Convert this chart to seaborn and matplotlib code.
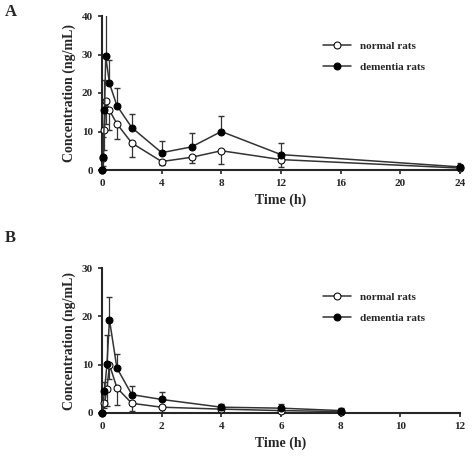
import matplotlib
matplotlib.use("Agg")
import matplotlib.pyplot as plt
import seaborn as sns
import numpy as np

sns.set_style("ticks")
plt.rcParams['font.family'] = ['Liberation Serif', 'DejaVu Serif']
plt.rcParams['font.weight'] = 'bold'

tA = [0, 0.083, 0.167, 0.25, 0.5, 1, 2, 4, 6, 8, 12, 24]
demA = [0, 3.5, 15.5, 29.5, 22.5, 16.7, 11, 4.5, 6, 10, 4, 0.8]
demA_err = [0, 5, 8, 17, 6, 4.5, 3.5, 3, 3.5, 4, 3, 1]
norA = [0, 3, 10.3, 18, 15.5, 12, 7, 2.2, 3.3, 5, 2.7, 0.5]
norA_err = [0, 2, 5, 6, 5, 4, 3.5, 1, 1.5, 3.5, 2, 0.5]

tB = [0, 0.083, 0.167, 0.25, 0.5, 1, 2, 4, 6, 8]
demB = [0, 4.5, 10.2, 19.3, 9.3, 3.8, 2.8, 1.2, 1.0, 0.5]
demB_err = [0, 2, 6, 4.6, 3, 1.7, 1.5, 0.7, 0.8, 0.5]
norB = [0, 2, 5, 10, 5.2, 2, 1.2, 0.8, 0.5, 0.3]
norB_err = [0, 1, 3.5, 3, 3.5, 1.5, 1, 0.5, 0.5, 0.3]

fig = plt.figure(figsize=(4.74, 4.74), dpi=100)
axA = fig.add_axes([102/474, 1-170/474, 358/474, 154/474])
axB = fig.add_axes([102/474, 1-413/474, 358/474, 145/474])

def panel(ax, t, dem, dem_e, nor, nor_e, xmax, xstep, ymax, ystep):
    ax.errorbar(t, dem, yerr=[np.zeros(len(dem)), dem_e], fmt='none', ecolor='#333333', elinewidth=0.9, capsize=2.5)
    ax.errorbar(t, nor, yerr=[nor_e, np.zeros(len(nor))], fmt='none', ecolor='#333333', elinewidth=0.9, capsize=2.5)
    sns.lineplot(x=t, y=nor, ax=ax, color='#333333', lw=1.1, marker='o', markersize=5,
                 markerfacecolor='white', markeredgecolor='black', label='normal rats', clip_on=False, zorder=5)
    sns.lineplot(x=t, y=dem, ax=ax, color='#333333', lw=1.1, marker='o', markersize=5,
                 markerfacecolor='black', markeredgecolor='black', label='dementia rats', clip_on=False, zorder=5)
    ax.set_xlim(0, xmax); ax.set_ylim(0, ymax)
    ax.set_xticks(np.arange(0, xmax+1, xstep)); ax.set_yticks(np.arange(0, ymax+1, ystep))
    ax.tick_params(labelsize=8, width=1.2, length=3)
    for l in ax.get_xticklabels()+ax.get_yticklabels(): l.set_fontweight('bold')
    sns.despine(ax=ax)
    for s in ['left', 'bottom']: ax.spines[s].set_linewidth(1.5)
    ax.set_xlabel('Time (h)', fontsize=10, fontweight='bold')
    ax.set_ylabel('Concentration (ng/mL)', fontsize=10, fontweight='bold')
    ax.legend(loc='upper right', bbox_to_anchor=(0.93, 0.9), frameon=False, fontsize=8, handlelength=2.5, labelspacing=1.0)

panel(axA, tA, demA, demA_err, norA, norA_err, 24, 4, 40, 10)
panel(axB, tB, demB, demB_err, norB, norB_err, 12, 2, 30, 10)
fig.text(5/474, 1-12/474, 'A', fontsize=12, fontweight='bold', va='center')
fig.text(5/474, 1-238/474, 'B', fontsize=12, fontweight='bold', va='center')
fig.savefig('out.png', dpi=100)
